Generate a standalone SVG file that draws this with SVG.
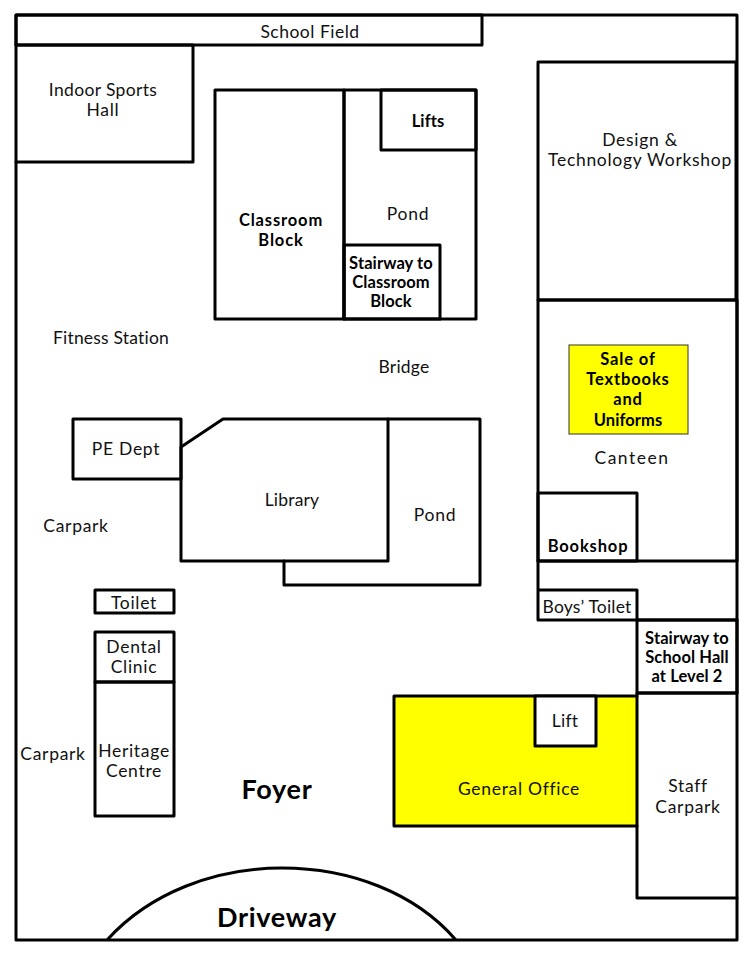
<svg xmlns="http://www.w3.org/2000/svg" width="751" height="954" viewBox="0 0 751 954">
<style>
.s{fill:none;stroke:#000;stroke-width:3;stroke-linejoin:round;stroke-linecap:round}
.y{fill:#ffff00}
text{font-family:"Lato","Open Sans","Liberation Sans",sans-serif;font-size:17.5px;text-anchor:middle;fill:#111;letter-spacing:.7px}
.n{letter-spacing:.2px}
.b{font-weight:700;font-size:16.5px;fill:#000;letter-spacing:.85px}
.t{letter-spacing:.1px}
.f{font-weight:700;font-size:27px;fill:#000;letter-spacing:.7px}
</style>
<rect width="751" height="954" fill="#fff"/>
<path class="s" d="M16 15H737V940H16Z"/>
<g id="field"><path class="s" d="M16 15H482V45H16Z"/><text class="n" x="310" y="38" style="letter-spacing:.5px">School Field</text></g>
<g id="hall"><path class="s" d="M16 45H193V162H16"/><text class="n" x="103" y="96" style="letter-spacing:.35px">Indoor Sports</text><text x="103" y="116">Hall</text></g>
<g id="classroom"><path class="s" d="M215 90H344V319H215Z"/><text class="b" x="281" y="226">Classroom</text><text class="b" x="281" y="246">Block</text></g>
<g id="pond1"><path class="s" d="M344 90H476V319H344Z"/><text x="408" y="220">Pond</text></g>
<g id="lifts"><path class="s" d="M381 90H476V150H381Z"/><text class="b t" x="428" y="127">Lifts</text></g>
<g id="stair1"><path class="s" d="M344 245H440V319H344Z"/><text class="b t" x="391" y="269">Stairway to</text><text class="b t" x="391" y="288">Classroom</text><text class="b t" x="391" y="307">Block</text></g>
<g id="dt"><path class="s" d="M538 62H736V300H538Z"/><text x="640" y="146">Design &amp;</text><text x="640" y="166">Technology Workshop</text></g>
<g id="canteen"><path class="s" d="M538 300H737V561H538Z"/><text x="632" y="464" style="letter-spacing:1.5px">Canteen</text></g>
<g id="sale"><rect class="y" x="569" y="345" width="119" height="89" stroke="#333" stroke-width="1"/><text class="b" x="628" y="365">Sale of</text><text class="b" x="628" y="385">Textbooks</text><text class="b" x="628" y="405">and</text><text class="b t" x="628" y="426">Uniforms</text></g>
<g id="bookshop"><path class="s" d="M538 493H637V561H538Z"/><text class="b" x="588" y="552">Bookshop</text></g>
<text class="n" x="111" y="344">Fitness Station</text>
<text class="n" x="404" y="373">Bridge</text>
<g id="pe"><path class="s" d="M73 419H181V479H73Z"/><text x="126" y="455">PE Dept</text></g>
<g id="library"><path class="s" d="M223 419H388V561H181V447Z"/><text class="n" x="292" y="506">Library</text></g>
<g id="pond2"><path class="s" d="M388 419H480V585H284V561"/><text x="435" y="521">Pond</text></g>
<text x="76" y="532">Carpark</text>
<g id="toilet"><path class="s" d="M95 590H174V613H95Z"/><text x="134" y="609">Toilet</text></g>
<g id="dental"><path class="s" d="M95 632H174V682H95Z"/><text x="134" y="653">Dental</text><text x="134" y="673">Clinic</text></g>
<g id="heritage"><path class="s" d="M95 682H174V816H95Z"/><text x="134" y="757">Heritage</text><text x="134" y="777">Centre</text></g>
<text x="53" y="760">Carpark</text>
<g id="boys"><path class="s" d="M538 561V620H737M538 590H637V620"/><text class="n" x="587" y="613">Boys’ Toilet</text></g>
<g id="stair2"><path class="s" d="M637 620H737V693H637Z"/><text class="b t" x="687" y="644">Stairway to</text><text class="b t" x="687" y="663">School Hall</text><text class="b t" x="687" y="682">at Level 2</text></g>
<g id="office"><rect class="y" x="394" y="696" width="243" height="130"/><path class="s" d="M637 696H394V826H637"/><text x="519" y="795">General Office</text></g>
<g id="lift"><rect x="535" y="696" width="61" height="50" fill="#fff"/><path class="s" d="M535 696H596V746H535Z"/><text class="n" x="565" y="727">Lift</text></g>
<g id="staff"><path class="s" d="M637 693H737M637 693V898H737"/><text x="688" y="792">Staff</text><text x="688" y="813">Carpark</text></g>
<text class="f" x="277" y="799">Foyer</text>
<g id="driveway"><path class="s" d="M108 939C150 893 215 868 282 868C350 868 415 893 455 939"/><text class="f" x="277" y="927">Driveway</text></g>
</svg>
